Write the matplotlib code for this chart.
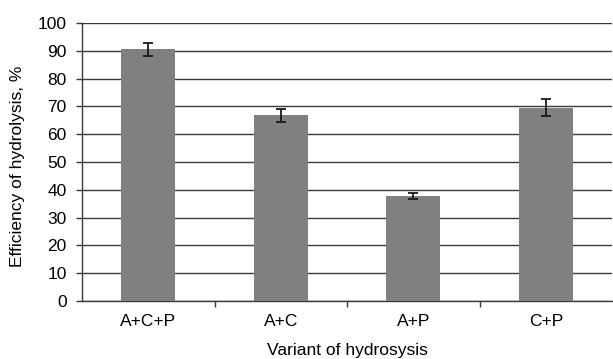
import numpy as np
import matplotlib.pyplot as plt

plt.rcParams['font.family'] = ['Liberation Sans', 'DejaVu Sans']

# values
variants = ['A+C+P', 'A+C', 'A+P', 'C+P']
efficiency = [90.6, 66.8, 37.8, 69.6]
errors = [2.3, 2.3, 1.0, 3.0]

W, H = 613, 359
fig = plt.figure(figsize=(W / 100, H / 100), dpi=100)
ax = fig.add_axes([82/W, 1 - 301/H, 530/W, 278/H])

x = np.arange(len(variants))
ax.bar(x, efficiency, width=0.41, color='#808083', zorder=3)
ax.errorbar(x, efficiency, yerr=errors, fmt='none', ecolor='#1a1a1a',
            elinewidth=1.3, capsize=3.5, capthick=1.3, zorder=4)

ax.set_xlim(-0.5, len(variants) - 0.5)
ax.set_ylim(0, 100)
ax.set_yticks(range(0, 101, 10))
ax.yaxis.grid(True, color='#3a3a3a', linewidth=1.0, zorder=0)

# category ticks sit between the bars
ax.set_xticks(x)
ax.set_xticklabels(variants, fontsize=12.5)
ax.set_xticks(np.arange(0.5, len(variants) - 1, 1), minor=True)
ax.tick_params(axis='x', which='major', length=0, pad=9)
ax.tick_params(axis='x', which='minor', length=4, width=1, color='#3a3a3a')
ax.tick_params(axis='y', length=4, width=1, color='#3a3a3a', labelsize=12.5, pad=7)

for side in ['top', 'right']:
    ax.spines[side].set_visible(False)
for side in ['left', 'bottom']:
    ax.spines[side].set_color('#3a3a3a')
    ax.spines[side].set_linewidth(1.0)

fig.text(347/W, 1 - 350/H, 'Variant of hydrosysis', fontsize=12.5,
         ha='center', va='center')
fig.text(18/W, 1 - 166/H, 'Efficiency of hydrolysis, %', fontsize=12.5,
         rotation=90, ha='center', va='center')

fig.savefig('out.png', dpi=100)
